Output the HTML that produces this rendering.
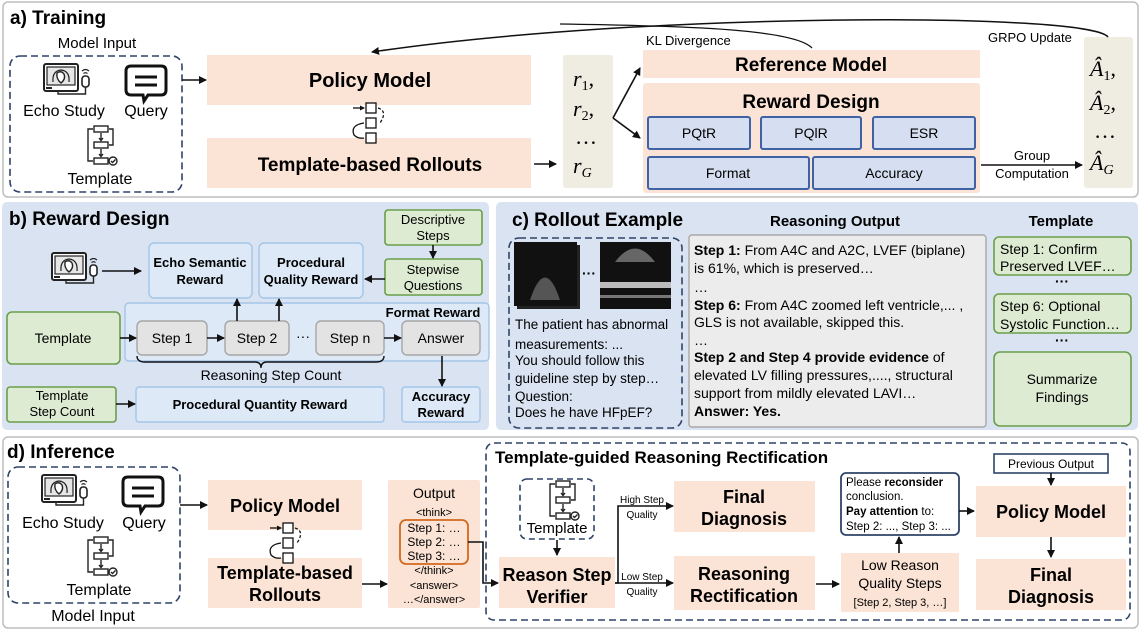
<!DOCTYPE html>
<html><head><meta charset="utf-8"><style>
html,body{margin:0;padding:0;background:#fff;}
svg{display:block;font-family:"Liberation Sans",Arial,sans-serif;}
.b{font-weight:bold;}
</style></head><body>
<svg width="1141" height="631" viewBox="0 0 1141 631" xmlns="http://www.w3.org/2000/svg">
<defs>
<marker id="a" markerWidth="8" markerHeight="8" refX="7" refY="4" orient="auto" markerUnits="userSpaceOnUse"><path d="M0,0 L8,4 L0,8 z" fill="#111"/></marker>
<g id="echo">
 <rect x="0" y="1" width="34" height="27" rx="2" fill="#fff" stroke="#222" stroke-width="2"/>
 <rect x="3" y="4" width="28" height="18" fill="#e6e6e6" stroke="#222" stroke-width="1.2"/>
 <path d="M9,19 Q8,8 17,7 Q26,8 25,19" fill="none" stroke="#222" stroke-width="1.2"/>
 <path d="M13,10 Q17,7 20,11 Q22,16 17,20 Q12,16 13,10 z" fill="#fff" stroke="#222" stroke-width="1.4"/>
 <rect x="2" y="24" width="6" height="2" fill="#222"/>
 <rect x="38" y="13" width="7" height="11" rx="3" fill="#fff" stroke="#222" stroke-width="1.6"/>
 <path d="M38,8 Q41.5,5 45,8 M39.5,10.5 Q41.5,9 43.5,10.5" fill="none" stroke="#222" stroke-width="1.2"/>
 <path d="M41.5,24 L41.5,31 L14,31 L14,28" fill="none" stroke="#222" stroke-width="1.4"/>
</g>
<g id="query">
 <path d="M5,1 H35 Q40,1 40,6 V25 Q40,30 35,30 H22 L18,36 L17,30 H5 Q0,30 0,25 V6 Q0,1 5,1 z" fill="#fff" stroke="#111" stroke-width="3"/>
 <path d="M9,12 H31 M9,20 H31" stroke="#111" stroke-width="3"/>
</g>
<g id="tmpl" fill="none" stroke="#222" stroke-width="1.4">
 <rect x="10" y="0" width="14" height="6"/><rect x="10" y="16" width="14" height="6"/><rect x="10" y="32" width="14" height="6"/>
 <circle cx="29" cy="35" r="4"/><path d="M27,35 l1.5,1.5 l3,-3"/>
 <path d="M17,7 V14 M15,12 l2,2.5 l2,-2.5"/><path d="M17,23 V30 M15,28 l2,2.5 l2,-2.5"/>
 <path d="M25,3 H29 V19 H25"/><path d="M9,3 H4 V35 H9"/>
</g>
<g id="flow" fill="#fff" stroke="#111" stroke-width="1.3">
 <rect x="0" y="0" width="10" height="10"/><rect x="0" y="15" width="10" height="10"/><rect x="0" y="30" width="10" height="10"/>
 <path d="M-13,5 H-2" fill="none" marker-end="url(#a2)"/>
 <path d="M12,5 Q22,8 14,20" fill="none" stroke-dasharray="3 2"/>
 <path d="M-2,20 Q-16,22 -12,32 Q-8,36 -2,35" fill="none"/>
</g>
<marker id="a2" markerWidth="5" markerHeight="5" refX="4" refY="2.5" orient="auto" markerUnits="userSpaceOnUse"><path d="M0,0 L5,2.5 L0,5 z" fill="#111"/></marker>
</defs>

<!-- ===== Panel a ===== -->
<rect x="3" y="2" width="1135" height="195" rx="5" fill="#fff" stroke="#bdbdbd" stroke-width="1.5"/>
<text x="10" y="24" class="b" font-size="19">a) Training</text>
<text x="97" y="48" text-anchor="middle" font-size="15">Model Input</text>
<rect x="10" y="56" width="172" height="136" rx="10" fill="none" stroke="#2f4468" stroke-width="1.6" stroke-dasharray="7 4"/>
<use href="#echo" x="44" y="63"/>
<use href="#query" x="126" y="65"/>
<text x="64" y="116" text-anchor="middle" font-size="16">Echo Study</text>
<text x="146" y="116" text-anchor="middle" font-size="16">Query</text>
<use href="#tmpl" x="84" y="126"/>
<text x="100" y="184" text-anchor="middle" font-size="16">Template</text>
<line x1="182" y1="80" x2="206" y2="80" stroke="#111" stroke-width="1.6" marker-end="url(#a)"/>
<rect x="207" y="55" width="324" height="50" fill="#fbe3d5"/>
<text x="370" y="87" text-anchor="middle" class="b" font-size="20">Policy Model</text>
<rect x="207" y="138" width="324" height="50" fill="#fbe3d5"/>
<text x="370" y="171" text-anchor="middle" class="b" font-size="19">Template-based Rollouts</text>
<use href="#flow" x="366" y="103"/>
<line x1="534" y1="164" x2="556" y2="164" stroke="#111" stroke-width="1.6" marker-end="url(#a)"/>
<rect x="563" y="55" width="50" height="133" rx="3" fill="#efece2"/>
<g font-family="Liberation Serif,serif" font-style="italic" font-size="22">
<text x="573" y="86">r<tspan font-size="14" dy="4" font-style="normal">1</tspan><tspan dy="-4" font-style="normal">,</tspan></text>
<text x="573" y="116">r<tspan font-size="14" dy="4" font-style="normal">2</tspan><tspan dy="-4" font-style="normal">,</tspan></text>
<text x="575" y="144" font-style="normal">…</text>
<text x="573" y="173">r<tspan font-size="14" dy="4">G</tspan></text>
</g>
<path d="M613,118 L640,68" stroke="#111" stroke-width="1.6" fill="none" marker-end="url(#a)"/>
<path d="M613,118 L640,138" stroke="#111" stroke-width="1.6" fill="none" marker-end="url(#a)"/>
<rect x="643" y="50" width="337" height="28" fill="#fbe3d5"/>
<text x="811" y="71" text-anchor="middle" class="b" font-size="19">Reference Model</text>
<rect x="643" y="83" width="337" height="110" rx="3" fill="#fbe3d5"/>
<text x="811" y="108" text-anchor="middle" class="b" font-size="19">Reward Design</text>
<g fill="#d5dff1" stroke="#3e62a4" stroke-width="2">
<rect x="648" y="117" width="102" height="32" rx="2"/><rect x="761" y="117" width="100" height="32" rx="2"/><rect x="873" y="117" width="102" height="32" rx="2"/>
<rect x="648" y="157" width="161" height="32" rx="2"/><rect x="813" y="157" width="162" height="32" rx="2"/>
</g>
<g font-size="14" text-anchor="middle">
<text x="699" y="138">PQtR</text><text x="811" y="138">PQlR</text><text x="924" y="138">ESR</text>
<text x="728" y="178">Format</text><text x="894" y="178">Accuracy</text>
</g>
<line x1="981" y1="165" x2="1082" y2="165" stroke="#111" stroke-width="1.6" marker-end="url(#a)"/>
<text x="1032" y="160" text-anchor="middle" font-size="13">Group</text>
<text x="1032" y="178" text-anchor="middle" font-size="13">Computation</text>
<rect x="1084" y="37" width="49" height="151" rx="3" fill="#efece2"/>
<g font-family="Liberation Serif,serif" font-style="italic" font-size="22">
<text x="1090" y="76">Â<tspan font-size="14" dy="4" font-style="normal">1</tspan><tspan dy="-4" font-style="normal">,</tspan></text>
<text x="1090" y="110">Â<tspan font-size="14" dy="4" font-style="normal">2</tspan><tspan dy="-4" font-style="normal">,</tspan></text>
<text x="1094" y="138" font-style="normal">…</text>
<text x="1090" y="170">Â<tspan font-size="14" dy="4">G</tspan></text>
</g>
<text x="988" y="42" font-size="13">GRPO Update</text>
<text x="646" y="45" font-size="13">KL Divergence</text>
<path d="M1108,37 C1090,12 640,12 372,52" fill="none" stroke="#111" stroke-width="1.5" marker-end="url(#a)"/>
<path d="M812,48 C795,30 700,26 560,24" fill="none" stroke="#111" stroke-width="1.3"/>

<!-- ===== Panel b ===== -->
<rect x="2" y="202" width="487" height="228" rx="5" fill="#d9e3f2"/>
<text x="9" y="225" class="b" font-size="19">b) Reward Design</text>
<use href="#echo" x="52" y="252"/>
<line x1="102" y1="271" x2="141" y2="271" stroke="#111" stroke-width="1.6" marker-end="url(#a)"/>
<g fill="#dde9f7" stroke="#a3c6e8" stroke-width="1.4">
<rect x="149" y="243" width="103" height="55" rx="5"/>
<rect x="259" y="243" width="104" height="55" rx="5"/>
<rect x="125" y="303" width="364" height="58" rx="4"/>
<rect x="136" y="387" width="248" height="35" rx="3"/>
<rect x="402" y="387" width="78" height="35" rx="3"/>
</g>
<g class="b" font-size="13" text-anchor="middle">
<text x="200" y="267">Echo Semantic</text><text x="200" y="284">Reward</text>
<text x="311" y="267">Procedural</text><text x="311" y="284">Quality Reward</text>
<text x="433" y="317">Format Reward</text>
<text x="260" y="409">Procedural Quantity Reward</text>
<text x="441" y="401">Accuracy</text><text x="441" y="417">Reward</text>
</g>
<g fill="#dcebd2" stroke="#6b9e4a" stroke-width="1.6">
<rect x="385" y="210" width="97" height="35" rx="3"/>
<rect x="385" y="259" width="97" height="36" rx="3"/>
<rect x="7" y="312" width="113" height="52" rx="5"/>
<rect x="7" y="387" width="109" height="35" rx="3"/>
</g>
<g font-size="13" text-anchor="middle">
<text x="433" y="224">Descriptive</text><text x="433" y="240">Steps</text>
<text x="433" y="274">Stepwise</text><text x="433" y="290">Questions</text>
<text x="62" y="400">Template</text><text x="62" y="416">Step Count</text>
</g>
<text x="63" y="343" text-anchor="middle" font-size="14">Template</text>
<line x1="433" y1="245" x2="433" y2="258" stroke="#111" stroke-width="1.6" marker-end="url(#a)"/>
<line x1="385" y1="279" x2="365" y2="279" stroke="#111" stroke-width="1.6" marker-end="url(#a)"/>
<g fill="#e3e3e3" stroke="#a6a6a6" stroke-width="1.4">
<rect x="137" y="321" width="70" height="34" rx="5"/>
<rect x="225" y="321" width="64" height="34" rx="5"/>
<rect x="316" y="321" width="68" height="34" rx="5"/>
<rect x="402" y="321" width="78" height="34" rx="5"/>
</g>
<g font-size="14" text-anchor="middle">
<text x="172" y="343">Step 1</text><text x="257" y="343">Step 2</text><text x="350" y="343">Step n</text><text x="441" y="343">Answer</text>
<text x="303" y="341">···</text>
</g>
<g stroke="#111" stroke-width="1.6" marker-end="url(#a)">
<line x1="120" y1="338" x2="136" y2="338"/><line x1="207" y1="338" x2="224" y2="338"/><line x1="384" y1="338" x2="401" y2="338"/>
<line x1="237" y1="321" x2="237" y2="299"/><line x1="279" y1="321" x2="279" y2="299"/>
<line x1="442" y1="356" x2="442" y2="386"/>
<line x1="116" y1="404" x2="135" y2="404"/>
</g>
<path d="M137,356 Q137,362 145,362 L255,362 Q261,362 261,368 Q261,362 267,362 L376,362 Q384,362 384,356" fill="none" stroke="#111" stroke-width="1.4"/>
<text x="271" y="380" text-anchor="middle" font-size="14">Reasoning Step Count</text>

<!-- ===== Panel c ===== -->
<rect x="496" y="202" width="642" height="228" rx="5" fill="#d9e3f2"/>
<text x="512" y="226" class="b" font-size="19">c) Rollout Example</text>
<rect x="509" y="238" width="173" height="190" rx="10" fill="none" stroke="#2f4468" stroke-width="1.6" stroke-dasharray="7 4"/>
<rect x="517" y="245" width="63" height="64" fill="#222"/><rect x="514" y="242" width="63" height="64" fill="#111"/>
<path d="M530,300 Q545,255 560,300 z" fill="#555"/>
<rect x="600" y="242" width="71" height="67" fill="#111"/>
<path d="M615,262 Q635,235 655,262 z" fill="#666"/><rect x="600" y="282" width="71" height="6" fill="#bbb"/><rect x="600" y="295" width="71" height="3" fill="#777"/>
<text x="589" y="278" text-anchor="middle" font-size="14" class="b">···</text>
<g font-size="13.5">
<text x="515" y="329">The patient has abnormal</text>
<text x="515" y="349">measurements: ...</text>
<text x="515" y="365">You should follow this</text>
<text x="515" y="383">guideline step by step…</text>
<text x="515" y="401">Question:</text>
<text x="515" y="417">Does he have HFpEF?</text>
</g>
<text x="835" y="226" text-anchor="middle" class="b" font-size="15">Reasoning Output</text>
<rect x="689" y="235" width="297" height="192" rx="3" fill="#ececec" stroke="#a8a8a8" stroke-width="1.4"/>
<g font-size="14">
<text x="694" y="255"><tspan class="b">Step 1:</tspan> From A4C and A2C, LVEF (biplane)</text>
<text x="694" y="273">is 61%, which is preserved…</text>
<text x="694" y="292">…</text>
<text x="694" y="310"><tspan class="b">Step 6:</tspan> From A4C zoomed left ventricle,... ,</text>
<text x="694" y="327">GLS is not available, skipped this.</text>
<text x="694" y="345">…</text>
<text x="694" y="362"><tspan class="b">Step 2 and Step 4 provide evidence</tspan> of</text>
<text x="694" y="380">elevated LV filling pressures,...., structural</text>
<text x="694" y="398">support from mildly elevated LAVI…</text>
<text x="694" y="416" class="b">Answer: Yes.</text>
</g>
<text x="1061" y="226" text-anchor="middle" class="b" font-size="15">Template</text>
<g fill="#dcebd2" stroke="#6b9e4a" stroke-width="1.6">
<rect x="994" y="237" width="137" height="38" rx="5"/>
<rect x="994" y="294" width="137" height="39" rx="5"/>
<rect x="994" y="352" width="137" height="74" rx="6"/>
</g>
<g font-size="14">
<text x="1000" y="254">Step 1: Confirm</text><text x="1000" y="271">Preserved LVEF…</text>
<text x="1000" y="311">Step 6: Optional</text><text x="1000" y="329">Systolic Function…</text>
<text x="1062" y="384" text-anchor="middle">Summarize</text><text x="1062" y="402" text-anchor="middle">Findings</text>
<text x="1062" y="286" text-anchor="middle" class="b">···</text>
<text x="1062" y="345" text-anchor="middle" class="b">···</text>
</g>

<!-- ===== Panel d ===== -->
<rect x="3" y="437" width="1135" height="191" rx="5" fill="#fff" stroke="#bdbdbd" stroke-width="1.5"/>
<text x="7" y="458" class="b" font-size="19">d) Inference</text>
<rect x="8" y="467" width="172" height="136" rx="10" fill="none" stroke="#2f4468" stroke-width="1.6" stroke-dasharray="7 4"/>
<use href="#echo" x="42" y="474"/>
<use href="#query" x="123" y="476"/>
<text x="63" y="528" text-anchor="middle" font-size="16">Echo Study</text>
<text x="144" y="528" text-anchor="middle" font-size="16">Query</text>
<use href="#tmpl" x="84" y="537"/>
<text x="99" y="595" text-anchor="middle" font-size="16">Template</text>
<text x="93" y="621" text-anchor="middle" font-size="16">Model Input</text>
<line x1="180" y1="505" x2="207" y2="505" stroke="#111" stroke-width="1.6" marker-end="url(#a)"/>
<rect x="208" y="480" width="154" height="50" fill="#fbe3d5"/>
<text x="285" y="512" text-anchor="middle" class="b" font-size="18">Policy Model</text>
<rect x="208" y="558" width="154" height="50" fill="#fbe3d5"/>
<text x="285" y="579" text-anchor="middle" class="b" font-size="18">Template-based</text>
<text x="285" y="601" text-anchor="middle" class="b" font-size="18">Rollouts</text>
<use href="#flow" x="283" y="523"/>
<line x1="362" y1="584" x2="387" y2="584" stroke="#111" stroke-width="1.6" marker-end="url(#a)"/>
<rect x="388" y="480" width="92" height="128" rx="2" fill="#fbe3d5"/>
<text x="434" y="498" text-anchor="middle" font-size="14">Output</text>
<g font-size="11" text-anchor="middle">
<text x="434" y="516">&lt;think&gt;</text>
<text x="434" y="574">&lt;/think&gt;</text>
<text x="434" y="589">&lt;answer&gt;</text>
<text x="434" y="603">…&lt;/answer&gt;</text>
</g>
<rect x="400" y="520" width="68" height="44" rx="6" fill="none" stroke="#d2691e" stroke-width="1.8"/>
<g font-size="12" text-anchor="middle">
<text x="434" y="532">Step 1: …</text><text x="434" y="546">Step 2: …</text><text x="434" y="560">Step 3: …</text>
</g>
<path d="M468,542 H483 V583 H498" fill="none" stroke="#111" stroke-width="1.6" marker-end="url(#a)"/>

<rect x="486" y="443" width="644" height="177" rx="8" fill="none" stroke="#2f4468" stroke-width="1.6" stroke-dasharray="7 4"/>
<text x="495" y="463" class="b" font-size="17">Template-guided Reasoning Rectification</text>
<rect x="520" y="479" width="74" height="60" rx="7" fill="none" stroke="#2f4468" stroke-width="1.6" stroke-dasharray="6 4"/>
<use href="#tmpl" x="546" y="481" transform="translate(0,0)"/>
<text x="557" y="533" text-anchor="middle" font-size="15">Template</text>
<line x1="557" y1="540" x2="557" y2="555" stroke="#111" stroke-width="1.6" marker-end="url(#a)"/>
<rect x="499" y="557" width="116" height="51" fill="#fbe3d5"/>
<text x="557" y="581" text-anchor="middle" class="b" font-size="18">Reason Step</text>
<text x="557" y="603" text-anchor="middle" class="b" font-size="18">Verifier</text>
<path d="M615,583 H618 V506 H673" fill="none" stroke="#111" stroke-width="1.6" marker-end="url(#a)"/>
<line x1="615" y1="583" x2="673" y2="583" stroke="#111" stroke-width="1.6" marker-end="url(#a)"/>
<g font-size="10" text-anchor="middle">
<text x="642" y="503">High Step</text><text x="642" y="518">Quality</text>
<text x="642" y="580">Low Step</text><text x="642" y="595">Quality</text>
</g>
<rect x="674" y="481" width="141" height="51" fill="#fbe3d5"/>
<text x="744" y="503" text-anchor="middle" class="b" font-size="18">Final</text>
<text x="744" y="525" text-anchor="middle" class="b" font-size="18">Diagnosis</text>
<rect x="674" y="556" width="141" height="54" fill="#fbe3d5"/>
<text x="744" y="580" text-anchor="middle" class="b" font-size="18">Reasoning</text>
<text x="744" y="602" text-anchor="middle" class="b" font-size="18">Rectification</text>
<line x1="816" y1="584" x2="839" y2="584" stroke="#111" stroke-width="1.6" marker-end="url(#a)"/>
<rect x="841" y="553" width="118" height="59" fill="#fbe3d5"/>
<text x="900" y="570" text-anchor="middle" font-size="14">Low Reason</text>
<text x="900" y="588" text-anchor="middle" font-size="14">Quality Steps</text>
<text x="900" y="606" text-anchor="middle" font-size="11">[Step 2, Step 3, …]</text>
<line x1="899" y1="553" x2="899" y2="537" stroke="#111" stroke-width="1.6" marker-end="url(#a)"/>
<rect x="841" y="473" width="118" height="62" rx="5" fill="#fff" stroke="#2f4468" stroke-width="1.8"/>
<g font-size="11.5">
<text x="846" y="486">Please <tspan class="b">reconsider</tspan></text>
<text x="846" y="500">conclusion.</text>
<text x="846" y="515"><tspan class="b">Pay attention</tspan> to:</text>
<text x="846" y="530">Step 2: ..., Step 3: ...</text>
</g>
<line x1="959" y1="511" x2="974" y2="511" stroke="#111" stroke-width="1.6" marker-end="url(#a)"/>
<rect x="994" y="454" width="114" height="19" fill="#fff" stroke="#2f4468" stroke-width="1.6"/>
<text x="1051" y="468" text-anchor="middle" font-size="12">Previous Output</text>
<line x1="1051" y1="473" x2="1051" y2="485" stroke="#111" stroke-width="1.6" marker-end="url(#a)"/>
<rect x="976" y="486" width="150" height="51" fill="#fbe3d5"/>
<text x="1051" y="518" text-anchor="middle" class="b" font-size="18">Policy Model</text>
<line x1="1051" y1="537" x2="1051" y2="557" stroke="#111" stroke-width="1.6" marker-end="url(#a)"/>
<rect x="976" y="559" width="150" height="51" fill="#fbe3d5"/>
<text x="1051" y="581" text-anchor="middle" class="b" font-size="18">Final</text>
<text x="1051" y="603" text-anchor="middle" class="b" font-size="18">Diagnosis</text>
</svg>
</body></html>
